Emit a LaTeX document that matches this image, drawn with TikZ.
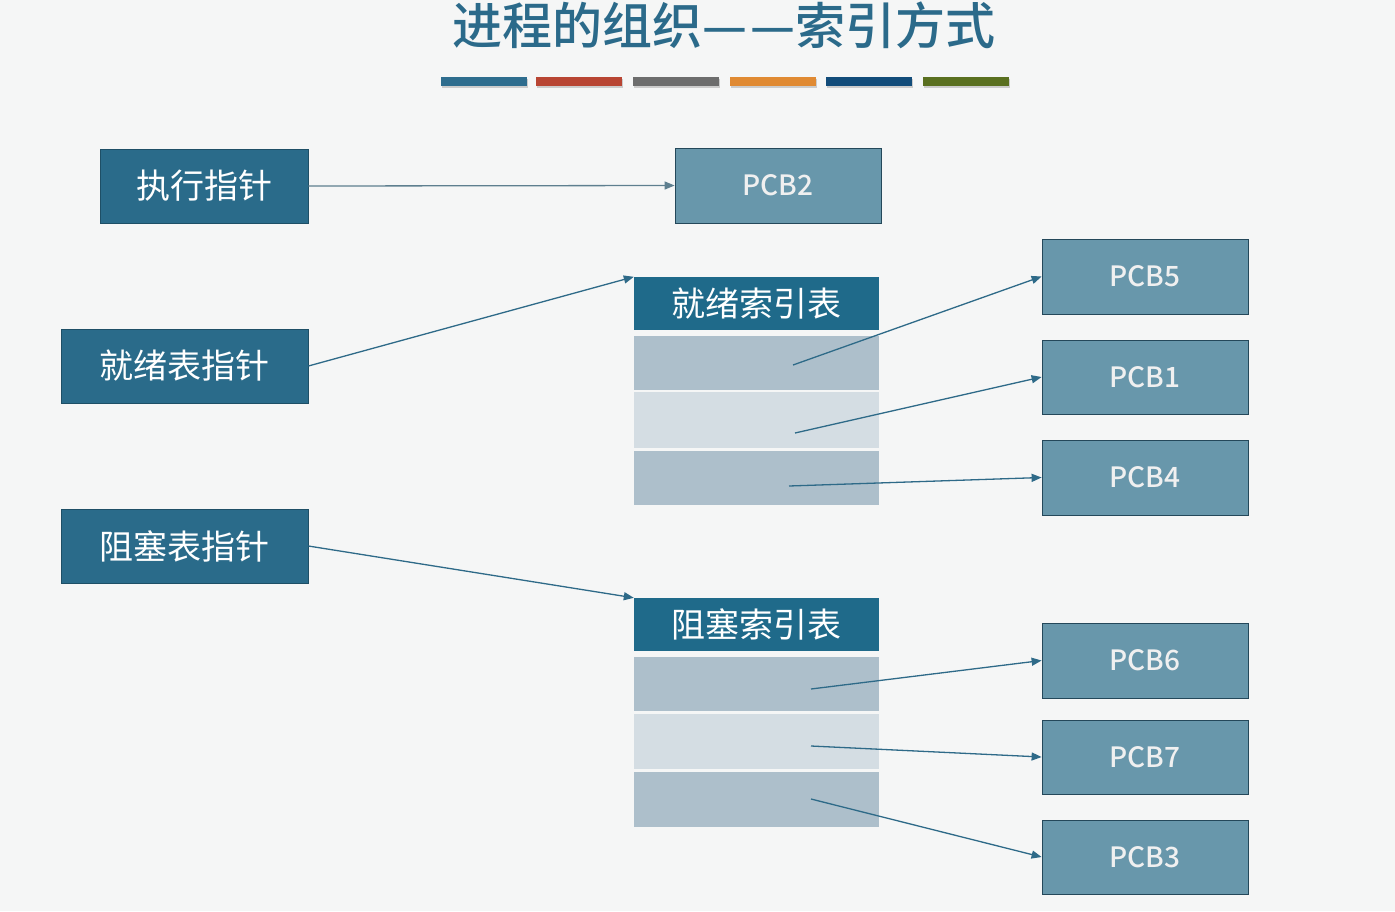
\documentclass[tikz,border=0pt]{standalone}
\usepackage{fontspec}
\newfontfamily\cjk{Noto Sans CJK SC}
\newfontfamily\cjkm{Noto Sans CJK SC Medium}
\usetikzlibrary{arrows.meta,shadows}
\definecolor{bg}{HTML}{F5F6F6}
\definecolor{titlec}{HTML}{2B6A8A}
\definecolor{ptrfill}{HTML}{2A6B8A}
\definecolor{ptrdraw}{HTML}{1E4F66}
\definecolor{pcbfill}{HTML}{6897AB}
\definecolor{pcbdraw}{HTML}{24485A}
\definecolor{hdrfill}{HTML}{1F6A8A}
\definecolor{rowA}{HTML}{ADBFCB}
\definecolor{rowB}{HTML}{D4DDE3}
\definecolor{linec}{HTML}{2E6A88}
\definecolor{linegray}{HTML}{5E7F8F}
\definecolor{barA}{HTML}{2E6D8E}
\definecolor{barB}{HTML}{B84533}
\definecolor{barC}{HTML}{6D6D6D}
\definecolor{barD}{HTML}{E08A33}
\definecolor{barE}{HTML}{124C7A}
\definecolor{barF}{HTML}{5A7020}
\tikzset{
  ptr/.style={draw=ptrdraw,line width=0.8pt,fill=ptrfill,text=white,font=\cjk\fontsize{34}{38}\selectfont,inner sep=0pt},
  pcb/.style={draw=pcbdraw,line width=0.8pt,fill=pcbfill,text=white!94!black,font=\cjkm\fontsize{28}{32}\selectfont,inner sep=0pt},
  hdr/.style={fill=hdrfill,text=white,font=\cjk\fontsize{34}{38}\selectfont,inner sep=0pt},
  rowa/.style={fill=rowA,inner sep=0pt},
  rowb/.style={fill=rowB,inner sep=0pt},
  conn/.style={draw=linec,line width=1.3pt,-{Triangle[length=10pt,width=8pt]}},
  bar/.style={inner sep=0pt,minimum height=9pt,minimum width=86pt,drop shadow={shadow xshift=1pt,shadow yshift=-2pt,opacity=0.35}},
}
\begin{document}
\begin{tikzpicture}[x=1pt,y=-1pt]
\fill[bg] (0,0) rectangle (1395,911);
\useasboundingbox (0,0) rectangle (1395,911);
% title
\node[text=titlec,font=\cjkm\fontsize{50}{56}\selectfont,inner sep=0pt] (title) at (724,25) {进程的组织—\hspace{3pt}—索引方式};
% bars
\node[bar,fill=barA] (b1) at (484,81) {};
\node[bar,fill=barB] (b2) at (579,81) {};
\node[bar,fill=barC] (b3) at (676,81) {};
\node[bar,fill=barD] (b4) at (773,81) {};
\node[bar,fill=barE] (b5) at (869,81) {};
\node[bar,fill=barF] (b6) at (966,81) {};
% pointer boxes
\node[ptr,minimum width=208pt,minimum height=74pt] (exec) at (204,186) {执行指针};
\node[ptr,minimum width=247pt,minimum height=74pt] (ready) at (184.5,366) {就绪表指针};
\node[ptr,minimum width=247pt,minimum height=74pt] (block) at (184.5,546) {阻塞表指针};
% PCB boxes
\node[pcb,minimum width=206pt,minimum height=75pt] (pcb2) at (778,185.5) {PCB2};
\node[pcb,minimum width=206pt,minimum height=75pt] (pcb5) at (1145,276.5) {PCB5};
\node[pcb,minimum width=206pt,minimum height=74pt] (pcb1) at (1145,377) {PCB1};
\node[pcb,minimum width=206pt,minimum height=75pt] (pcb4) at (1145,477.5) {PCB4};
\node[pcb,minimum width=206pt,minimum height=75pt] (pcb6) at (1145,660.5) {PCB6};
\node[pcb,minimum width=206pt,minimum height=74pt] (pcb7) at (1145,757) {PCB7};
\node[pcb,minimum width=206pt,minimum height=74pt] (pcb3) at (1145,857) {PCB3};
% ready index table
\node[hdr,minimum width=245pt,minimum height=53pt] (rhdr) at (756.5,303.5) {就绪索引表};
\node[rowa,minimum width=245pt,minimum height=54pt] (rr1) at (756.5,363) {};
\node[rowb,minimum width=245pt,minimum height=56pt] (rr2) at (756.5,420) {};
\node[rowa,minimum width=245pt,minimum height=54pt] (rr3) at (756.5,478) {};
% blocked index table
\node[hdr,minimum width=245pt,minimum height=53pt] (bhdr) at (756.5,624.5) {阻塞索引表};
\node[rowa,minimum width=245pt,minimum height=54pt] (br1) at (756.5,684) {};
\node[rowb,minimum width=245pt,minimum height=55pt] (br2) at (756.5,741.5) {};
\node[rowa,minimum width=245pt,minimum height=55pt] (br3) at (756.5,799.5) {};
% pointer start points inside rows
\coordinate (s1) at (793,365);
\coordinate (s2) at (795,433);
\coordinate (s3) at (789,486);
\coordinate (s4) at (811,689);
\coordinate (s5) at (811,746);
\coordinate (s6) at (811,799);
% connectors
\draw[conn,draw=linegray] (exec.east) -- (pcb2.west);
\draw[conn] (ready.east) -- (rhdr.north west);
\draw[conn] (block.east) -- (bhdr.north west);
\draw[conn] (s1) -- (pcb5.west);
\draw[conn] (s2) -- (pcb1.west);
\draw[conn] (s3) -- (pcb4.west);
\draw[conn] (s4) -- (pcb6.west);
\draw[conn] (s5) -- (pcb7.west);
\draw[conn] (s6) -- (pcb3.west);
\end{tikzpicture}
\end{document}
